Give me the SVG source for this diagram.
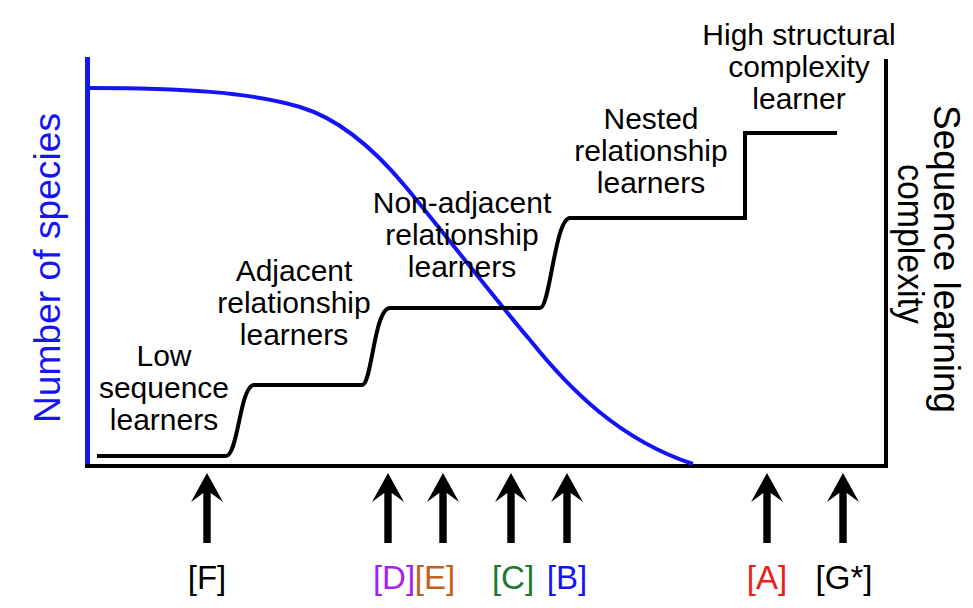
<svg xmlns="http://www.w3.org/2000/svg" xmlns:xlink="http://www.w3.org/1999/xlink" width="973" height="608" viewBox="0 0 973 608">
<style>
text{font-family:"Liberation Sans",Arial,sans-serif;fill:#000}
.lbl{font-size:30px;text-anchor:middle}
.tag{font-size:33px;text-anchor:middle}
.ax{font-size:37px;text-anchor:middle}
.blk{fill:none;stroke:#000;stroke-width:4}
.blue{fill:none;stroke:#1414f5;stroke-width:4}
</style>
<defs>
<path id="arr" d="M0,473 L16,502 L3.7,493 V543 H-3.7 V493 L-16,502 Z" fill="#000"/>
</defs>
<rect width="973" height="608" fill="#fff"/>
<g id="axes">
<line x1="87.5" y1="57" x2="87.5" y2="466" stroke="#1414f5" stroke-width="5"/>
<polyline class="blk" points="85,466 886,466 886,59"/>
<text class="ax" transform="translate(60,268) rotate(-90)" style="fill:#1414f5" textLength="310" lengthAdjust="spacingAndGlyphs">Number of species</text>
<text class="ax" transform="translate(934,259) rotate(90)" textLength="308" lengthAdjust="spacingAndGlyphs">Sequence learning</text>
<text class="ax" transform="translate(898,244) rotate(90)" textLength="160" lengthAdjust="spacingAndGlyphs">complexity</text>
</g>
<g id="connectors">
<path id="species-curve" class="blue" d="M90,88 C180,88 250,92 300,107 C340,119 375,150 405,186 C440,228 500,305 530,340 C570,390 620,440 693,464"/>
<path id="complexity-steps" class="blk" d="M97,456 H226 C238,456 240,385 254,385 H362 C372,385 374,308 390,308 H540 C550,308 555,218 570,218 H745 V133 H837"/>
</g>
<g id="low">
<text class="lbl" x="164" y="366">Low</text>
<text class="lbl" x="164" y="398">sequence</text>
<text class="lbl" x="164" y="430">learners</text>
</g>
<g id="adjacent">
<text class="lbl" x="294" y="281">Adjacent</text>
<text class="lbl" x="294" y="313">relationship</text>
<text class="lbl" x="294" y="345">learners</text>
</g>
<g id="nonadjacent">
<text class="lbl" x="462" y="213">Non-adjacent</text>
<text class="lbl" x="462" y="245">relationship</text>
<text class="lbl" x="462" y="277">learners</text>
</g>
<g id="nested">
<text class="lbl" x="651" y="129">Nested</text>
<text class="lbl" x="651" y="161">relationship</text>
<text class="lbl" x="651" y="193">learners</text>
</g>
<g id="high">
<text class="lbl" x="799" y="45">High structural</text>
<text class="lbl" x="799" y="77">complexity</text>
<text class="lbl" x="799" y="109">learner</text>
</g>
<g id="F"><use xlink:href="#arr" x="207"/><text class="tag" x="207" y="589">[F]</text></g>
<g id="D"><use xlink:href="#arr" x="388"/><text class="tag" x="394" y="589" style="fill:#a81ef0">[D]</text></g>
<g id="E"><use xlink:href="#arr" x="443"/><text class="tag" x="435" y="589" style="fill:#c0621e">[E]</text></g>
<g id="C"><use xlink:href="#arr" x="511"/><text class="tag" x="513" y="589" style="fill:#1a7a30">[C]</text></g>
<g id="B"><use xlink:href="#arr" x="567"/><text class="tag" x="567" y="589" style="fill:#1414f5">[B]</text></g>
<g id="A"><use xlink:href="#arr" x="767"/><text class="tag" x="767" y="589" style="fill:#e8201a">[A]</text></g>
<g id="G"><use xlink:href="#arr" x="843"/><text class="tag" x="844" y="589">[G*]</text></g>
</svg>
